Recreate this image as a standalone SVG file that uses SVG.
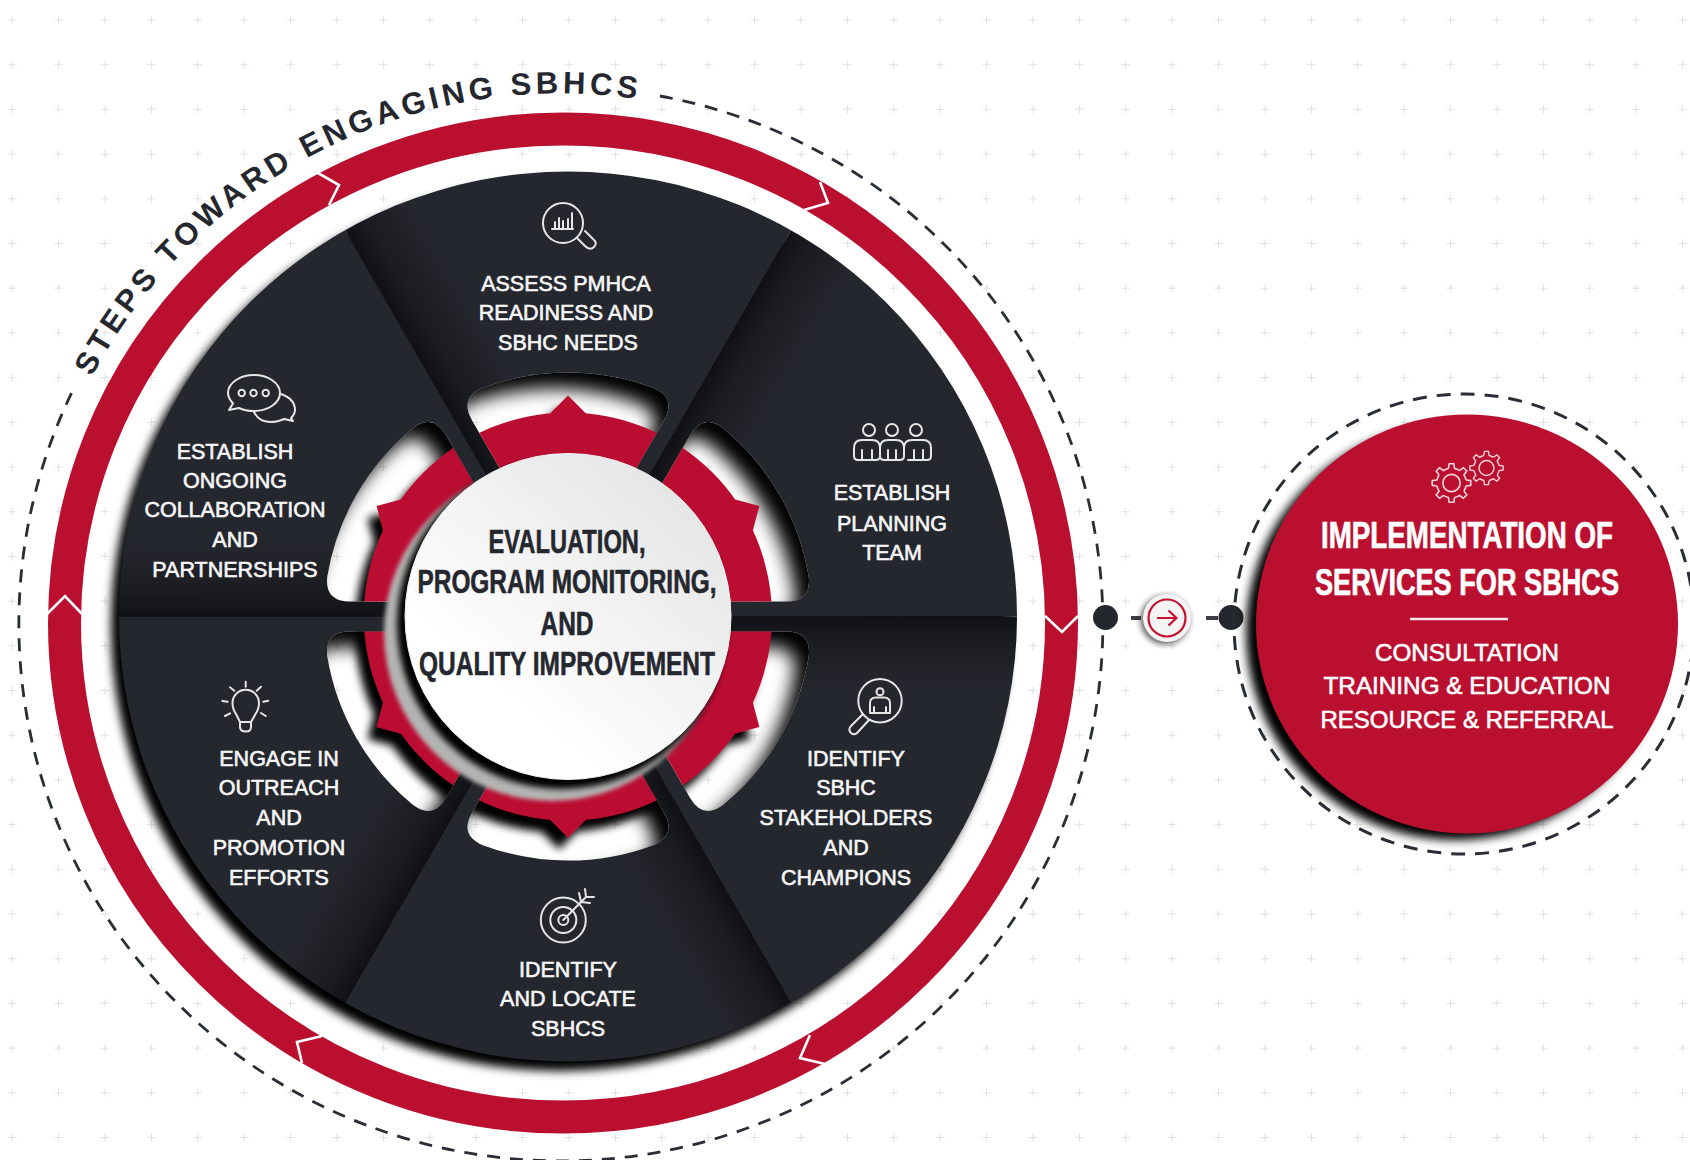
<svg xmlns="http://www.w3.org/2000/svg" width="1690" height="1160" viewBox="0 0 1690 1160">
<style>
.lbl{font-family:"Liberation Sans",Arial,sans-serif;font-size:21.5px;fill:#f6f6f6;stroke:#f6f6f6;stroke-width:.6;text-anchor:middle}
.ctr{font-family:"Liberation Sans",Arial,sans-serif;font-weight:700;font-size:34px;fill:#25272e;stroke:#25272e;stroke-width:.6;text-anchor:middle}
.big{font-family:"Liberation Sans",Arial,sans-serif;font-weight:700;font-size:37px;fill:#fff;stroke:#fff;stroke-width:.7;text-anchor:middle}
.sub{font-family:"Liberation Sans",Arial,sans-serif;font-size:24px;fill:#fff;stroke:#fff;stroke-width:.6;text-anchor:middle}
.ttl{font-family:"Liberation Sans",Arial,sans-serif;font-weight:700;font-size:31px;fill:#25272e;letter-spacing:4.2px}
.ico{fill:none;stroke:#e6e6e6;stroke-width:2;stroke-linecap:round;stroke-linejoin:round}
.gico{fill:none;stroke:#f3d5db;stroke-width:1.6;stroke-linejoin:round}
.dash{fill:none;stroke:#2a2d35;stroke-width:2.8}
.chev{fill:none;stroke:#fff;stroke-width:2.6}
</style>
<defs>
<pattern id="plus" patternUnits="userSpaceOnUse" x="-11" y="-2.35" width="46.4" height="44.7">
<path d="M23.2 18.35v8M19.2 22.35h8" stroke="#dfe0e2" stroke-width="1" fill="none"/>
</pattern>
<linearGradient id="secG" gradientUnits="userSpaceOnUse" x1="0" y1="0" x2="62" y2="-36">
<stop offset="0" stop-color="#101114"/><stop offset=".35" stop-color="#1b1c21"/><stop offset="1" stop-color="#25272e"/>
</linearGradient>
<linearGradient id="ctrG" x1="0.85" y1="0.1" x2="0.3" y2="0.75">
<stop offset="0" stop-color="#e4e5e5"/><stop offset="1" stop-color="#ffffff"/>
</linearGradient>
<filter id="b9" x="-10%" y="-10%" width="120%" height="120%"><feGaussianBlur stdDeviation="9"/></filter>
<filter id="b5" x="-15%" y="-15%" width="130%" height="130%"><feGaussianBlur stdDeviation="5"/></filter>
<filter id="b3" x="-10%" y="-10%" width="120%" height="120%"><feGaussianBlur stdDeviation="3"/></filter>
<filter id="b2" x="-10%" y="-10%" width="120%" height="120%"><feGaussianBlur stdDeviation="2"/></filter>
<filter id="gs" x="-20%" y="-20%" width="140%" height="140%"><feDropShadow dx="-9" dy="12" stdDeviation="4" flood-color="#000"/></filter>
<clipPath id="diskClip"><ellipse cx="568" cy="616.5" rx="449" ry="445"/></clipPath>
<path id="sec" d="M0 0L-240 -415.7A480 480 0 0 1 240 -415.7Z" fill="url(#secG)"/>
<path id="win" d="M-57 -128.7L-96 -196.3Q-108.7 -218.4 -85.9 -228.4A244 244 0 0 1 85.9 -228.4Q108.7 -218.4 96 -196.3L57 -128.7Z"/>
<path id="hole" fill-rule="evenodd" d="M-420 -420H420V420H-420ZM-57 -128.7L-96 -196.3Q-108.7 -218.4 -85.9 -228.4A244 244 0 0 1 85.9 -228.4Q108.7 -218.4 96 -196.3L57 -128.7Z"/>
<g id="gear" transform="translate(568 616.5)" fill="#bb0f30">
<circle r="204"/>
<polygon points="-19,-202 0,-221 19,-202"/>
<polygon points="-19,-202 0,-221 19,-202" transform="rotate(60)"/>
<polygon points="-19,-202 0,-221 19,-202" transform="rotate(120)"/>
<polygon points="-19,-202 0,-221 19,-202" transform="rotate(180)"/>
<polygon points="-19,-202 0,-221 19,-202" transform="rotate(240)"/>
<polygon points="-19,-202 0,-221 19,-202" transform="rotate(300)"/>
</g>
<path id="tooth" d="M-3 -14.2L-2.3 -18.9L2.3 -18.9L3 -14.2A14.5 14.5 0 0 1 7.9 -12.16"/>
<g id="cog">
<use href="#tooth"/><use href="#tooth" transform="rotate(45)"/><use href="#tooth" transform="rotate(90)"/><use href="#tooth" transform="rotate(135)"/><use href="#tooth" transform="rotate(180)"/><use href="#tooth" transform="rotate(225)"/><use href="#tooth" transform="rotate(270)"/><use href="#tooth" transform="rotate(315)"/>
<circle r="8.5"/>
</g>
<clipPath id="w0"><use href="#win" transform="translate(568 616.5)"/></clipPath>
<clipPath id="w1"><use href="#win" transform="translate(568 616.5) rotate(60)"/></clipPath>
<clipPath id="w2"><use href="#win" transform="translate(568 616.5) rotate(120)"/></clipPath>
<clipPath id="w3"><use href="#win" transform="translate(568 616.5) rotate(180)"/></clipPath>
<clipPath id="w4"><use href="#win" transform="translate(568 616.5) rotate(240)"/></clipPath>
<clipPath id="w5"><use href="#win" transform="translate(568 616.5) rotate(300)"/></clipPath>
</defs>

<rect width="1690" height="1160" fill="#fff"/>
<rect width="1690" height="1160" fill="url(#plus)"/>

<g id="outer-ring">
<path class="dash" stroke-dasharray="13 10" d="M660 96A542 537 0 1 1 73 390"/>
<ellipse cx="563" cy="623" rx="498.5" ry="494" fill="none" stroke="#bb0f30" stroke-width="33"/>
<polyline class="chev" points="318,173 339,185 329,205"/>
<polyline class="chev" points="820,182 828,203 804,210"/>
<polyline class="chev" points="1078,616 1062,632 1045,616"/>
<polyline class="chev" points="825,1064 800,1058 810,1035"/>
<polyline class="chev" points="322,1036 297,1042 302,1063"/>
<polyline class="chev" points="47,614 65,596 82,614"/>
<path id="titlePath" fill="none" d="M92 377A529 529 0 0 1 650 101"/>
<text class="ttl"><textPath href="#titlePath">STEPS TOWARD ENGAGING SBHCS</textPath></text>
</g>

<ellipse id="disk-shadow" cx="560" cy="626" rx="449" ry="445" fill="#000" filter="url(#b5)"/>

<g id="step-assess">
<g clip-path="url(#diskClip)"><use href="#sec" transform="translate(568 616.5)"/></g>
<g clip-path="url(#w0)"><rect x="300" y="340" width="540" height="540" fill="#fff"/><rect x="300" y="340" width="540" height="540" fill="url(#plus)"/>
<g transform="translate(-14 16)" filter="url(#b9)"><use href="#hole" transform="translate(568 616.5)"/></g><use href="#gear" filter="url(#gs)"/></g>
<g class="ico"><circle cx="563" cy="223" r="20"/><path d="M577 238L585 246Q590 251 594 247Q598 243 593 239L585 231"/><path d="M552 229H573M555 228V222M559 228V218M563 228V221M568 228V219M572 228V213"/></g>
<text class="lbl" x="566" y="291">ASSESS PMHCA</text>
<text class="lbl" x="566" y="320">READINESS AND</text>
<text class="lbl" x="568" y="350">SBHC NEEDS</text>
</g>

<g id="step-team">
<g clip-path="url(#diskClip)"><use href="#sec" transform="translate(568 616.5) rotate(60)"/></g>
<g clip-path="url(#w1)"><rect x="300" y="340" width="540" height="540" fill="#fff"/><rect x="300" y="340" width="540" height="540" fill="url(#plus)"/>
<g transform="translate(-14 16)" filter="url(#b9)"><use href="#hole" transform="translate(568 616.5) rotate(60)"/></g><use href="#gear" filter="url(#gs)"/></g>
<g class="ico"><circle cx="869" cy="430" r="6"/><circle cx="892" cy="430" r="6"/><circle cx="916" cy="430" r="6"/>
<path d="M858 460Q854 460 854 456V448Q854 440 862 440H872Q880 440 880 448V456Q880 460 876 460ZM862 450V460M872 450V460"/>
<path d="M884 460Q880 460 880 456V448Q880 440 888 440H896Q904 440 904 448V456Q904 460 900 460ZM888 450V460M896 450V460"/>
<path d="M904 448Q904 440 912 440H923Q931 440 931 448V456Q931 460 927 460H908M914 460V450M923 460V450"/></g>
<text class="lbl" x="892" y="500">ESTABLISH</text>
<text class="lbl" x="892" y="530.5">PLANNING</text>
<text class="lbl" x="892" y="560">TEAM</text>
</g>

<g id="step-stakeholders">
<g clip-path="url(#diskClip)"><use href="#sec" transform="translate(568 616.5) rotate(120)"/></g>
<g clip-path="url(#w2)"><rect x="300" y="340" width="540" height="540" fill="#fff"/><rect x="300" y="340" width="540" height="540" fill="url(#plus)"/>
<g transform="translate(-14 16)" filter="url(#b9)"><use href="#hole" transform="translate(568 616.5) rotate(120)"/></g><use href="#gear" filter="url(#gs)"/></g>
<g class="ico"><circle cx="880" cy="700.7" r="21.7"/><circle cx="880" cy="691.7" r="3.5"/><path d="M870 713V703Q870 697.5 876 697.5H884Q890 697.5 890 703V713ZM874 713V707M886 713V707"/><path d="M863 714L850.5 726.5Q848 730 851 733Q854 735.5 857 733L869 720"/></g>
<text class="lbl" x="856" y="766">IDENTIFY</text>
<text class="lbl" x="846" y="795">SBHC</text>
<text class="lbl" x="846" y="825">STAKEHOLDERS</text>
<text class="lbl" x="846" y="854.5">AND</text>
<text class="lbl" x="846" y="885">CHAMPIONS</text>
</g>

<g id="step-locate">
<g clip-path="url(#diskClip)"><use href="#sec" transform="translate(568 616.5) rotate(180)"/></g>
<g clip-path="url(#w3)"><rect x="300" y="340" width="540" height="540" fill="#fff"/><rect x="300" y="340" width="540" height="540" fill="url(#plus)"/>
<g transform="translate(-14 16)" filter="url(#b9)"><use href="#hole" transform="translate(568 616.5) rotate(180)"/></g><use href="#gear" filter="url(#gs)"/></g>
<g class="ico"><circle cx="563.3" cy="920" r="22.5"/><circle cx="563.3" cy="920" r="13"/><circle cx="563.3" cy="920" r="5"/><path d="M563.3 920L586 897M586 897L585 889M586 897L594 897M581 902L579 893M581 902L590 903"/></g>
<text class="lbl" x="568" y="977">IDENTIFY</text>
<text class="lbl" x="568" y="1006">AND LOCATE</text>
<text class="lbl" x="568" y="1036">SBHCS</text>
</g>

<g id="step-outreach">
<g clip-path="url(#diskClip)"><use href="#sec" transform="translate(568 616.5) rotate(240)"/></g>
<g clip-path="url(#w4)"><rect x="300" y="340" width="540" height="540" fill="#fff"/><rect x="300" y="340" width="540" height="540" fill="url(#plus)"/>
<g transform="translate(-14 16)" filter="url(#b9)"><use href="#hole" transform="translate(568 616.5) rotate(240)"/></g><use href="#gear" filter="url(#gs)"/></g>
<g class="ico"><path d="M240 722L236 714Q232.5 709 232.5 703A13.2 13.2 0 0 1 259 703Q259 709 255.5 714L251 722V727Q251 731.5 246 731.5Q240 731.5 240 727ZM240 722H251"/><path d="M245.7 681.7V686.7M230 687.3L234.3 690.7M222.3 701L227.7 701.7M225 716L230 713.3M261 686.7L256.7 690.7M268.3 700.7L263.3 701.7M265.7 716L261 713"/></g>
<text class="lbl" x="279" y="765.5">ENGAGE IN</text>
<text class="lbl" x="279" y="795">OUTREACH</text>
<text class="lbl" x="279" y="825">AND</text>
<text class="lbl" x="279" y="854.5">PROMOTION</text>
<text class="lbl" x="279" y="885">EFFORTS</text>
</g>

<g id="step-collaboration">
<g clip-path="url(#diskClip)"><use href="#sec" transform="translate(568 616.5) rotate(300)"/></g>
<g clip-path="url(#w5)"><rect x="300" y="340" width="540" height="540" fill="#fff"/><rect x="300" y="340" width="540" height="540" fill="url(#plus)"/>
<g transform="translate(-14 16)" filter="url(#b9)"><use href="#hole" transform="translate(568 616.5) rotate(300)"/></g><use href="#gear" filter="url(#gs)"/></g>
<g class="ico"><path d="M229 410L233 403.5Q228 398 228 393C228 383 240 375 254 375S280 383 280 393S268 411 254 411Q245 411 239 408Z"/><circle cx="241.7" cy="393" r="3.2"/><circle cx="253.5" cy="393" r="3.2"/><circle cx="265.7" cy="393" r="3.2"/><path d="M281 394Q295 399 295 410Q295 414 291 418L293 421L284 419Q278 422 270 422Q259 422 254 412"/></g>
<text class="lbl" x="235" y="459">ESTABLISH</text>
<text class="lbl" x="235" y="488">ONGOING</text>
<text class="lbl" x="235" y="517">COLLABORATION</text>
<text class="lbl" x="235" y="547">AND</text>
<text class="lbl" x="235" y="576.5">PARTNERSHIPS</text>
</g>

<g id="center">
<circle cx="552" cy="633" r="168" fill="#b4b4b2" filter="url(#b2)"/>
<circle cx="562" cy="624" r="165" fill="#000" filter="url(#b3)"/>
<circle cx="568" cy="616.5" r="163" fill="url(#ctrG)" stroke="#f5f5f5" stroke-width="1"/>
<text class="ctr" x="567" y="553" textLength="157" lengthAdjust="spacingAndGlyphs">EVALUATION,</text>
<text class="ctr" x="567" y="593" textLength="299" lengthAdjust="spacingAndGlyphs">PROGRAM MONITORING,</text>
<text class="ctr" x="567" y="635" textLength="53" lengthAdjust="spacingAndGlyphs">AND</text>
<text class="ctr" x="567" y="675" textLength="296" lengthAdjust="spacingAndGlyphs">QUALITY IMPROVEMENT</text>
</g>

<g id="connectors">
<path d="M1131 618H1141M1206 618H1218" stroke="#3a3d44" stroke-width="4" fill="none"/>
<circle cx="1105.5" cy="617.5" r="12.5" fill="#25272e"/>
<circle cx="1231" cy="617.5" r="12.5" fill="#25272e"/>
<circle cx="1165" cy="620" r="24" fill="#222" filter="url(#b3)" opacity=".8"/>
<circle cx="1167" cy="618" r="24" fill="#f4f4f4"/>
<circle cx="1167" cy="618" r="18.5" fill="none" stroke="#c8102e" stroke-width="2.2"/>
<path d="M1157 618H1176M1168.5 610.5L1176.5 618L1168.5 625.5" fill="none" stroke="#c8102e" stroke-width="2.2"/>
</g>

<g id="implementation">
<circle class="dash" cx="1464" cy="624" r="230" stroke-dasharray="14 10" style="stroke-width:3"/>
<ellipse cx="1456" cy="632" rx="210" ry="208" fill="#000" filter="url(#b5)"/>
<ellipse cx="1467" cy="624" rx="211" ry="209.5" fill="#bb0f30"/>
<g class="gico">
<use href="#cog" transform="translate(1451.5 483) scale(1.02)"/>
<use href="#cog" transform="translate(1486.5 468) scale(.88)"/>
</g>
<text class="big" x="1467" y="548" textLength="292" lengthAdjust="spacingAndGlyphs">IMPLEMENTATION OF</text>
<text class="big" x="1467" y="595" textLength="304" lengthAdjust="spacingAndGlyphs">SERVICES FOR SBHCS</text>
<path d="M1410 619H1508" stroke="#f6e6e9" stroke-width="2.6"/>
<text class="sub" x="1467" y="661" textLength="184" lengthAdjust="spacingAndGlyphs">CONSULTATION</text>
<text class="sub" x="1467" y="694" textLength="287" lengthAdjust="spacingAndGlyphs">TRAINING &amp; EDUCATION</text>
<text class="sub" x="1467" y="728" textLength="293" lengthAdjust="spacingAndGlyphs">RESOURCE &amp; REFERRAL</text>
</g>
</svg>
